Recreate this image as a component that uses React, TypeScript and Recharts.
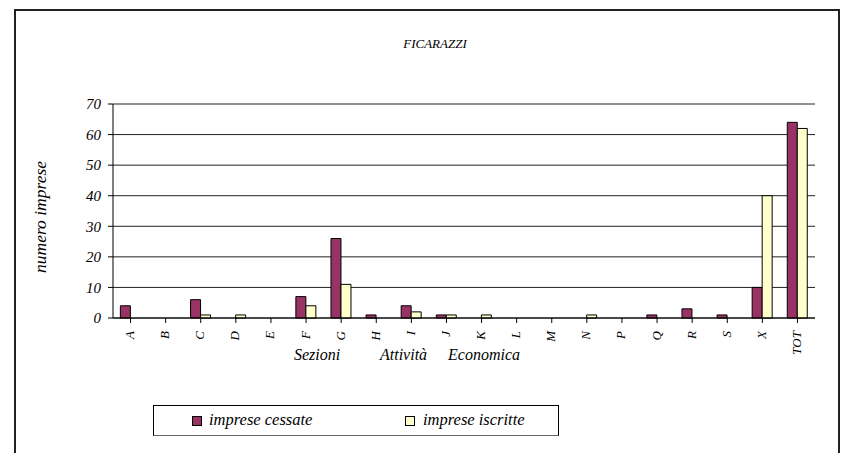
import { BarChart, Bar, XAxis, YAxis, CartesianGrid } from 'recharts';

const sezioni = ['A', 'B', 'C', 'D', 'E', 'F', 'G', 'H', 'I', 'J', 'K', 'L', 'M', 'N', 'P', 'Q', 'R', 'S', 'X', 'TOT'];
const cessate = [4, 0, 6, 0, 0, 7, 26, 1, 4, 1, 0, 0, 0, 0, 0, 1, 3, 1, 10, 64];
const iscritte = [0, 0, 1, 1, 0, 4, 11, 0, 2, 1, 1, 0, 0, 1, 0, 0, 0, 0, 40, 62];
const yTicks = [0, 10, 20, 30, 40, 50, 60, 70];

const data = sezioni.map((s, i) => ({ sezione: s, cessate: cessate[i], iscritte: iscritte[i] }));

const FONT = "'Times New Roman', Times, 'Liberation Serif', 'DejaVu Serif', 'Noto Serif', serif";

const RotTick = (props: any) => {
  const { x, y, payload } = props;
  const ty = y + 6;
  return (
    <text
      x={x - 1}
      y={ty}
      transform={`rotate(-90, ${x - 1}, ${ty})`}
      textAnchor="end"
      dominantBaseline="central"
      style={{ fontFamily: FONT, fontStyle: 'italic', fontSize: 13 }}
      fill="#000"
    >
      {payload.value}
    </text>
  );
};

export default function App() {
  return (
    <div style={{ position: 'absolute', left: 0, top: 0, width: 843, height: 453, background: '#fff', overflow: 'hidden', fontFamily: FONT }}>
      <div
        style={{
          position: 'absolute',
          left: 14,
          top: 9,
          width: 826,
          height: 470,
          border: '2px solid #222',
          boxSizing: 'border-box',
        }}
      />
      <div
        style={{
          position: 'absolute',
          left: 335,
          width: 200,
          top: 36,
          textAlign: 'center',
          fontStyle: 'italic',
          fontSize: 13,
        }}
      >
        FICARAZZI
      </div>
      <div
        style={{
          position: 'absolute',
          left: 40,
          top: 217,
          transform: 'translate(-50%, -50%) rotate(-90deg)',
          fontStyle: 'italic',
          fontSize: 17.5,
          whiteSpace: 'nowrap',
        }}
      >
        numero imprese
      </div>
      <div
        style={{
          position: 'absolute',
          top: 346,
          left: 0,
          fontStyle: 'italic',
          fontSize: 16,
          whiteSpace: 'nowrap',
        }}
      >
        <span style={{ position: 'absolute', left: 294 }}>Sezioni</span>
        <span style={{ position: 'absolute', left: 380 }}>Attività</span>
        <span style={{ position: 'absolute', left: 448 }}>Economica</span>
      </div>
      <div style={{ position: 'absolute', left: 0, top: 0 }}>
        <BarChart
          width={843}
          height={453}
          data={data}
          margin={{ top: 104, right: 28, bottom: 105, left: 60 }}
          barCategoryGap="21%"
          barGap={0}
        >
          <CartesianGrid yAxisId="left" horizontal vertical={false} stroke="#222" strokeWidth={1} />
          <XAxis
            dataKey="sezione"
            height={30}
            interval={0}
            tick={<RotTick />}
            tickLine={{ stroke: '#000' }}
            tickSize={5}
            axisLine={{ stroke: '#000' }}
          />
          <YAxis
            yAxisId="left"
            width={53}
            domain={[0, 70]}
            ticks={yTicks}
            interval={0}
            axisLine={{ stroke: '#000' }}
            tickLine={{ stroke: '#000' }}
            tickSize={5}
            tick={{ fontStyle: 'italic', fontSize: 15, fill: '#000', dx: -5, style: { fontFamily: FONT } } as any}
          />
          <YAxis
            yAxisId="right"
            orientation="right"
            width={0}
            domain={[0, 70]}
            tick={false}
            tickLine={false}
            axisLine={{ stroke: '#888' }}
          />
          <Bar yAxisId="left" dataKey="cessate" name="imprese cessate" fill="#993366" stroke="#000" strokeWidth={1} isAnimationActive={false} />
          <Bar yAxisId="left" dataKey="iscritte" name="imprese iscritte" fill="#FFFFCC" stroke="#000" strokeWidth={1} isAnimationActive={false} />
        </BarChart>
      </div>
      <div
        style={{
          position: 'absolute',
          left: 153,
          top: 405,
          width: 406,
          height: 31,
          border: '1px solid #000',
          borderBottomColor: '#666',
          fontStyle: 'italic',
          fontSize: 16.5,
          boxSizing: 'border-box',
        }}
      >
        <span style={{ position: 'absolute', left: 38, top: 10, width: 8, height: 8, background: '#993366', border: '1px solid #000' }} />
        <span style={{ position: 'absolute', left: 55, top: 4, lineHeight: '20px', whiteSpace: 'nowrap' }}>imprese cessate</span>
        <span style={{ position: 'absolute', left: 251, top: 10, width: 8, height: 8, background: '#FFFFCC', border: '1px solid #000' }} />
        <span style={{ position: 'absolute', left: 269, top: 4, lineHeight: '20px', whiteSpace: 'nowrap' }}>imprese iscritte</span>
      </div>
    </div>
  );
}
